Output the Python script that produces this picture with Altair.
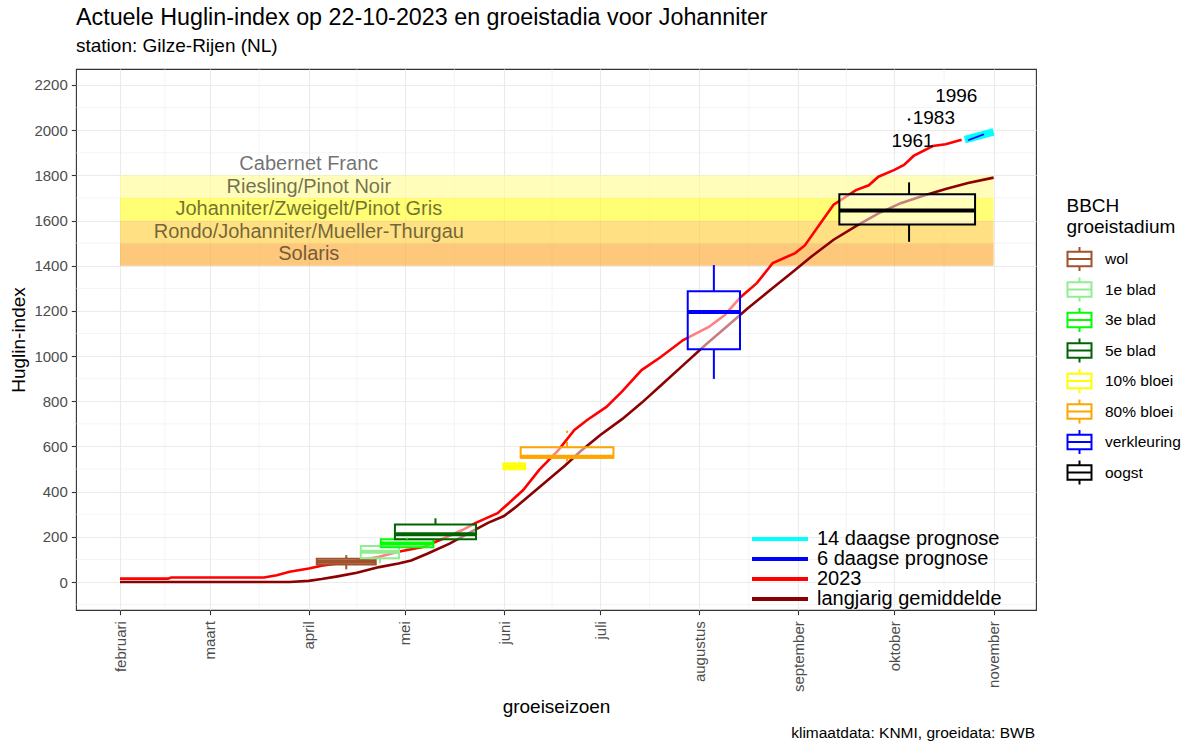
import json
import altair as alt
import pandas as pd

# ---------------- data ----------------
month_names = ["januari", "februari", "maart", "april", "mei", "juni", "juli",
               "augustus", "september", "oktober", "november", "december"]
month_ticks = ["2023-02-01", "2023-03-01", "2023-04-01", "2023-05-01", "2023-06-01",
               "2023-07-01", "2023-08-01", "2023-09-01", "2023-10-01", "2023-11-01"]
minor_x = ["2023-02-15", "2023-03-16T12:00", "2023-04-16", "2023-05-16T12:00", "2023-06-16",
           "2023-07-16T12:00", "2023-08-16T12:00", "2023-09-16", "2023-10-16T12:00"]
y_ticks = [0, 200, 400, 600, 800, 1000, 1200, 1400, 1600, 1800, 2000, 2200]
minor_y = [-100, 100, 300, 500, 700, 900, 1100, 1300, 1500, 1700, 1900, 2100]

# long-term average (langjarig gemiddelde)
avg_dates = ["2023-02-01", "2023-03-26", "2023-04-01", "2023-04-05", "2023-04-10", "2023-04-16",
             "2023-04-23", "2023-04-29", "2023-05-03", "2023-05-08", "2023-05-15", "2023-05-21",
             "2023-05-27", "2023-06-01", "2023-06-05", "2023-06-10", "2023-06-15", "2023-06-20",
             "2023-06-25", "2023-07-01", "2023-07-08", "2023-07-14", "2023-07-20", "2023-07-27",
             "2023-08-03", "2023-08-10", "2023-08-16", "2023-08-23", "2023-08-30", "2023-09-05",
             "2023-09-12", "2023-09-19", "2023-09-26", "2023-10-03", "2023-10-10", "2023-10-17",
             "2023-10-24", "2023-11-01"]
avg_values = [0, 0, 5, 13, 25, 41, 66, 82, 95, 125, 170, 216, 262, 292, 335, 395, 455, 515,
              580, 650, 722, 793, 870, 960, 1050, 1135, 1210, 1290, 1370, 1440, 1515, 1575,
              1632, 1677, 1710, 1740, 1766, 1790]

# 2023
cur_dates = ["2023-02-01", "2023-02-16", "2023-02-17", "2023-03-18", "2023-03-22", "2023-03-26",
             "2023-04-01", "2023-04-05", "2023-04-14", "2023-04-23", "2023-04-29", "2023-05-07",
             "2023-05-12", "2023-05-19", "2023-05-23", "2023-05-30", "2023-06-03", "2023-06-07",
             "2023-06-12", "2023-06-18", "2023-06-23", "2023-06-27", "2023-07-03", "2023-07-08",
             "2023-07-14", "2023-07-20", "2023-07-27", "2023-08-04", "2023-08-09", "2023-08-14",
             "2023-08-19", "2023-08-24", "2023-08-31", "2023-09-03", "2023-09-08", "2023-09-12",
             "2023-09-19", "2023-09-23", "2023-09-26", "2023-10-01", "2023-10-04", "2023-10-07",
             "2023-10-13", "2023-10-17", "2023-10-22"]
cur_values = [15, 15, 20, 20, 30, 45, 60, 72, 90, 112, 134, 156, 186, 230, 261, 305, 355, 407,
              496, 584, 673, 717, 775, 845, 938, 996, 1071, 1129, 1182, 1262, 1323, 1412, 1456,
              1490, 1590, 1670, 1735, 1756, 1794, 1824, 1846, 1886, 1930, 1938, 1958]

fc6_dates = ["2023-10-24", "2023-10-29"]
fc6_values = [1955, 1982]
fc14_dates = ["2023-10-23", "2023-11-01"]
fc14_values = [1958, 1992]

line_names = ["14 daagse prognose", "6 daagse prognose", "2023", "langjarig gemiddelde"]
line_colors = ["#00FFFF", "#0000FF", "#FF0000", "#8B0000"]

# growth stages (boxplots)
stages = ["wol", "1e blad", "3e blad", "5e blad", "10% bloei", "80% bloei", "verkleuring", "oogst"]
stage_colors = ["#A0522D", "#90EE90", "#00FF00", "#006400", "#FFFF00", "#FFA500", "#0000FF", "#000000"]
box_start = ["2023-04-03T12:00", "2023-04-17T06:00", "2023-04-23T12:00", "2023-04-27T22:00",
             "2023-05-31T20:00", "2023-06-06T05:00", "2023-07-28T10:00", "2023-09-13T19:00"]
box_end = ["2023-04-21T22:00", "2023-04-29T05:00", "2023-05-09T22:00", "2023-05-23T06:00",
           "2023-06-07T14:00", "2023-07-05T05:00", "2023-08-13T18:00", "2023-10-26T05:00"]
box_mid = ["2023-04-12T17:00", "2023-04-23T05:00", "2023-05-01T17:00", "2023-05-10T14:00",
           "2023-06-04T02:00", "2023-06-20T17:00", "2023-08-05T14:00", "2023-10-05T14:00"]
q1 = [78, 105, 154, 189, 499, 550, 1030, 1583]
median = [90, 134, 171, 211, 512, 555, 1195, 1644]
q3 = [103, 159, 189, 255, 525, 596, 1287, 1716]
whisker_lo = [56, 83, 148, 189, 495, 533, 899, 1506]
whisker_hi = [119, 163, 196, 282, 530, 621, 1403, 1769]

outlier_dates = ["2023-06-20T17:00", "2023-10-05T14:00"]
outlier_values = [665, 2047]
outlier_colors = ["#FFA500", "#000000"]

year_labels = ["1961", "1983", "1996"]
year_dates = ["2023-10-06T16:00", "2023-10-13T08:00", "2023-10-20T08:00"]
year_values = [1954, 2056, 2153]

band_labels = ["Solaris", "Rondo/Johanniter/Mueller-Thurgau", "Johanniter/Zweigelt/Pinot Gris",
               "Riesling/Pinot Noir", "Cabernet Franc"]
band_lo = [1400, 1500, 1600, 1700, 1800]
band_hi = [1500, 1600, 1700, 1800, 1900]
band_colors = ["#FCA325", "#FFCD30", "#FFFD17", "#FFFC8A", "#FFFFFF"]
band_opacity = [0.6, 0.6, 0.6, 0.6, 0.0]
band_start = "2023-02-01"
band_end = "2023-11-01"
band_label_date = "2023-04-01"

caption = "klimaatdata: KNMI, groeidata: BWB"


# ---------------- helpers ----------------
def ms(s):
    return int(pd.Timestamp(s, tz="UTC").timestamp() * 1000)


DAY = 86400000
x0 = ms("2023-02-01")
FONT = "Liberation Sans"

x_scale = alt.Scale(type="utc", domain=[x0 - 13.75 * DAY, x0 + 286.25 * DAY])
y_scale = alt.Scale(domain=[-123.9, 2270.8], nice=False, zero=False)

label_expr = json.dumps(month_names) + "[utcmonth(datum.value)]"
x_axis = alt.Axis(
    title="groeiseizoen", values=[ms(d) for d in month_ticks], labelExpr=label_expr,
    labelAngle=270, labelAlign="right", labelBaseline="middle", labelPadding=6,
    labelFontSize=15, labelColor="#4D4D4D", tickColor="#333333", tickSize=4.7, tickWidth=1.1,
    domain=False, grid=True, gridColor="#EBEBEB", gridWidth=1.1,
    titleFontSize=19, titleFontWeight="normal", titleColor="black",
    titleX=480, titleY=96, titleBaseline="middle", titleAnchor="middle",
)
y_axis = alt.Axis(
    title="Huglin-index", values=y_ticks, format="d", labelFontSize=15, labelColor="#4D4D4D",
    labelPadding=4, tickColor="#333333", tickSize=4.7, tickWidth=1.1, domain=False,
    grid=True, gridColor="#EBEBEB", gridWidth=1.1,
    titleFontSize=19, titleFontWeight="normal", titleColor="black",
    titleX=-58, titleY=270.5, titleBaseline="middle", titleAngle=270,
)

BOXPATH = "M-1,-0.6H1V0.6H-1Z M-1,0H1 M0,-0.6V-1 M0,0.6V1"
stage_scale = alt.Scale(domain=stages, range=stage_colors)
stage_legend = alt.Legend(
    title=["BBCH", "groeistadium"], orient="none", legendX=990.5, legendY=128,
    symbolType=BOXPATH, symbolSize=576, symbolStrokeWidth=2, symbolFillColor="white",
    labelFontSize=15.5, labelColor="black", labelOffset=12.5, labelFont=FONT,
    titleFontSize=19, titleFontWeight="normal", titleColor="black", titleLineHeight=21,
    titlePadding=9, titleFont=FONT, rowPadding=-1.5, padding=0,
)
line_scale = alt.Scale(domain=line_names, range=line_colors)
line_legend = alt.Legend(
    title=None, orient="none", legendX=694, legendY=460,
    symbolType="M-4,0H4", symbolSize=196, symbolStrokeWidth=4,
    labelFontSize=20, labelColor="black", labelOffset=27, labelFont=FONT, labelLimit=500,
    rowPadding=-1, padding=0,
)

# ---------------- frames ----------------
avg_df = pd.DataFrame({"date": [ms(d) for d in avg_dates], "value": avg_values,
                       "series": "langjarig gemiddelde"})
cur_df = pd.DataFrame({"date": [ms(d) for d in cur_dates], "value": cur_values, "series": "2023"})
fc6_df = pd.DataFrame({"date": [ms(d) for d in fc6_dates], "value": fc6_values,
                       "series": "6 daagse prognose"})
fc14_df = pd.DataFrame({"date": [ms(d) for d in fc14_dates], "value": fc14_values,
                        "series": "14 daagse prognose"})
box_df = pd.DataFrame({
    "stage": stages, "start": [ms(d) for d in box_start], "end": [ms(d) for d in box_end],
    "mid": [ms(d) for d in box_mid], "q1": q1, "median": median, "q3": q3,
    "lo": whisker_lo, "hi": whisker_hi,
})
out_df = pd.DataFrame({"date": [ms(d) for d in outlier_dates], "value": outlier_values,
                       "color": outlier_colors})
year_df = pd.DataFrame({"date": [ms(d) for d in year_dates], "value": year_values,
                        "label": year_labels})
band_df = pd.DataFrame({
    "label": band_labels, "lo": band_lo, "hi": band_hi, "color": band_colors,
    "op": band_opacity, "start": ms(band_start), "end": ms(band_end),
    "mid": [(a + b) / 2 for a, b in zip(band_lo, band_hi)], "ldate": ms(band_label_date),
})
minx_df = pd.DataFrame({"date": [ms(d) for d in minor_x]})
miny_df = pd.DataFrame({"value": minor_y})
cap_df = pd.DataFrame({"text": [caption]})

X = lambda f: alt.X(f"{f}:T", scale=x_scale, axis=x_axis)
Y = lambda f: alt.Y(f"{f}:Q", scale=y_scale, axis=y_axis)

# ---------------- layers ----------------
grid_x = alt.Chart(minx_df).mark_rule(color="#EBEBEB", strokeWidth=0.55).encode(x=X("date"))
grid_y = alt.Chart(miny_df).mark_rule(color="#EBEBEB", strokeWidth=0.55).encode(y=Y("value"))

bands = alt.Chart(band_df).mark_rect().encode(
    x=X("start"), x2="end", y=Y("lo"), y2="hi",
    fill=alt.Fill("color:N", scale=None), opacity=alt.Opacity("op:Q", scale=None),
)
band_text = alt.Chart(band_df).mark_text(
    font=FONT, fontSize=20, color="black", opacity=0.55, baseline="middle", align="center"
).encode(x=X("ldate"), y=Y("mid"), text="label:N")


def line_layer(df, width):
    return alt.Chart(df).mark_line(strokeWidth=width, strokeCap="butt").encode(
        x=X("date"), y=Y("value"),
        color=alt.Color("series:N", scale=line_scale, legend=line_legend),
    )


avg_line = line_layer(avg_df, 2.6)
cur_line = line_layer(cur_df, 2.6)
fc14_line = line_layer(fc14_df, 7.5)
fc6_line = line_layer(fc6_df, 1.6)

stroke_enc = alt.Stroke("stage:N", scale=stage_scale, legend=stage_legend)
boxes = alt.Chart(box_df).mark_rect(fill="white", fillOpacity=0.5, strokeWidth=2).encode(
    x=X("start"), x2="end", y=Y("q1"), y2="q3", stroke=stroke_enc,
)
medians = alt.Chart(box_df).mark_rule(strokeWidth=4).encode(
    x=X("start"), x2="end", y=Y("median"), stroke=stroke_enc,
)
whisk_lo = alt.Chart(box_df).mark_rule(strokeWidth=2).encode(
    x=X("mid"), y=Y("lo"), y2="q1", stroke=stroke_enc,
)
whisk_hi = alt.Chart(box_df).mark_rule(strokeWidth=2).encode(
    x=X("mid"), y=Y("q3"), y2="hi", stroke=stroke_enc,
)
outliers = alt.Chart(out_df).mark_circle(size=6, opacity=1).encode(
    x=X("date"), y=Y("value"), color=alt.Color("color:N", scale=None),
)
years = alt.Chart(year_df).mark_text(
    font=FONT, fontSize=19, color="black", align="center", baseline="middle"
).encode(x=X("date"), y=Y("value"), text="label:N")

cap = alt.Chart(cap_df).mark_text(
    font=FONT, fontSize=15.5, color="black", align="right", baseline="middle"
).encode(x=alt.value(959), y=alt.value(664), text="text:N")

chart = alt.layer(
    grid_x, grid_y, bands, band_text, avg_line, cur_line, boxes, medians, whisk_lo, whisk_hi,
    outliers, fc14_line, fc6_line, years, cap,
).properties(
    width=960, height=541,
    title=alt.TitleParams(
        text="Actuele Huglin-index op 22-10-2023 en groeistadia voor Johanniter",
        subtitle="station: Gilze-Rijen (NL)", anchor="start", frame="group",
        font=FONT, fontSize=23.3, fontWeight="normal", color="black",
        subtitleFont=FONT, subtitleFontSize=19, subtitleColor="black",
        subtitlePadding=6, offset=12,
    ),
    autosize=alt.AutoSizeParams(type="none"),
    padding={"left": 76, "top": 69, "right": 164, "bottom": 140},
).configure(font=FONT).configure_view(stroke="#333333", strokeWidth=1.1)

chart.save("out.html", embed_options={"renderer": "svg", "actions": False})
